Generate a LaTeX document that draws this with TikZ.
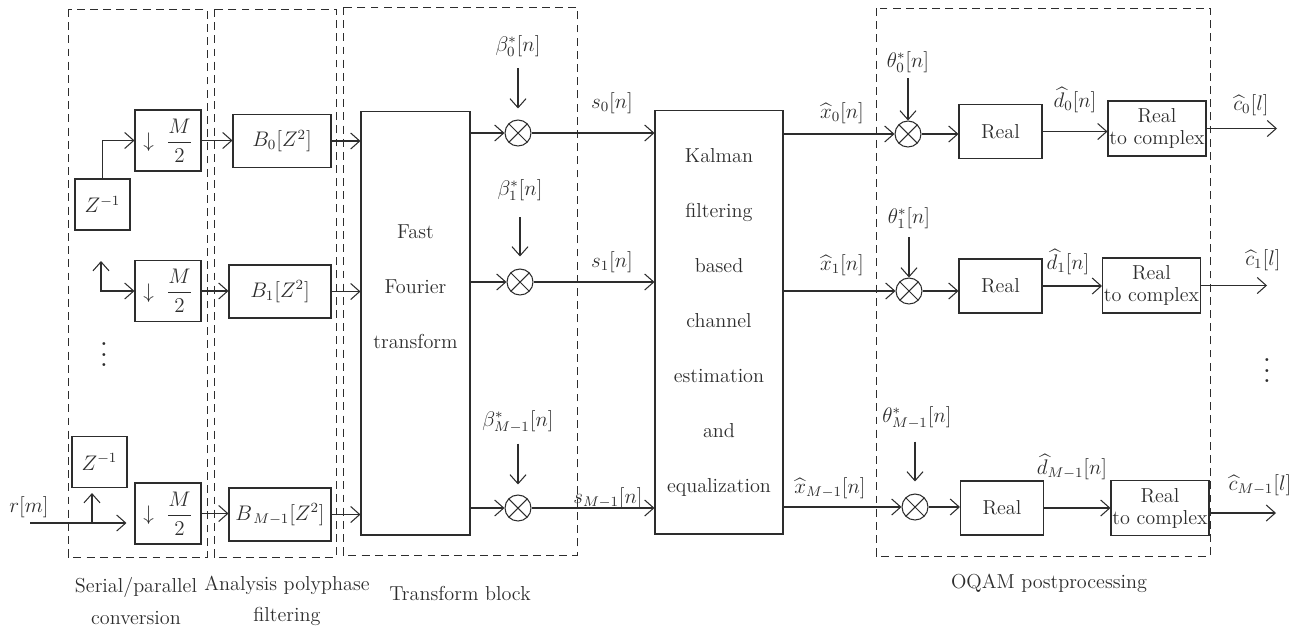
\documentclass[tikz,border=0pt]{standalone}
\usepackage{amsmath}
\usepackage{amssymb}
\usepackage{tikz}
\usetikzlibrary{arrows.meta,positioning,calc}
\definecolor{ink}{RGB}{45,45,45}

\begin{document}
\begin{tikzpicture}[
      x=0.02cm, y=-0.02cm, color=ink, line width=0.6pt,
      >={Straight Barb[length=1.8mm,width=3.2mm]},
      font=\fontsize{11.5}{14}\selectfont,
      dsbox/.style={draw, minimum width=13.2mm, minimum height=12.2mm, inner sep=1pt},
      dly/.style={draw, minimum width=11mm, minimum height=10.2mm, inner sep=1pt},
      flt/.style={draw, minimum width=20.4mm, minimum height=10.6mm, inner sep=1pt},
      bigbox/.style={draw, align=center, minimum height=84.8mm, font=\fontsize{11.5}{31.3}\selectfont},
      realbox/.style={draw, minimum width=16.6mm, minimum height=10.8mm},
      cvbox/.style={draw, align=center, minimum width=19.6mm, minimum height=11mm,
                    inner sep=0.5pt, font=\fontsize{11.5}{12.5}\selectfont},
      mix/.style={draw, circle, minimum size=5.2mm, inner sep=0pt,
                  path picture={\draw (path picture bounding box.north west) -- (path picture bounding box.south east)
                                      (path picture bounding box.south west) -- (path picture bounding box.north east);}},
      sig/.style={inner sep=1pt, font=\fontsize{12}{14}\selectfont},
      grp/.style={draw, dash pattern=on 4.5pt off 3pt, line width=0.5pt},
      grplbl/.style={align=center, font=\fontsize{11.5}{18}\selectfont}
    ]
    \useasboundingbox (0,0) rectangle (1311,630);

    % processing groups
    \draw[grp] (68,9) rectangle (207,557);
    \draw[grp] (214,9) rectangle (336,557);
    \draw[grp] (343,7) rectangle (577,555);
    \draw[grp] (876,8) rectangle (1210,556);

    \node[grplbl] (capsp) at (136,601) {Serial/parallel\\conversion};
    \node[grplbl] (capap) at (287,601) {Analysis polyphase\\filtering};
    \node[grplbl] (captb) at (460,593) {Transform block};
    \node[grplbl] (capoq) at (1049,583) {OQAM postprocessing};

    % serial/parallel conversion
    \node[dsbox] (ds0) at (168,140.5) {$\downarrow\ \dfrac{M}{2}$};
    \node[dsbox] (ds1) at (168,291)   {$\downarrow\ \dfrac{M}{2}$};
    \node[dsbox] (ds2) at (168,513.5) {$\downarrow\ \dfrac{M}{2}$};
    \node[dly]   (z0)  at (102.5,204.5) {$Z^{-1}$};
    \node[dly]   (z2)  at (99.5,462)    {$Z^{-1}$};
    \node[scale=1.5] (dotsl) at (104,347) {$\vdots$};

    \coordinate (rin) at (30,523);
    \coordinate (jn)  at (92,523);
    \coordinate (up1) at (101,261);
    \node[sig] (rlab) at (29,507) {$r[m]$};

    \draw[->, shorten >=1.6mm] (rin) -- (rin -| ds2.west);
    \draw[->, shorten >=1mm] (jn) -- (jn |- z2.south);
    \draw[->] (z0.north) |- (ds0.west);
    \draw[<->] (up1) |- (ds1.west);

    % polyphase filters
    \node[flt, minimum width=19.6mm] (bf0) at (282,141) {$B_0[Z^2]$};
    \node[flt] (bf1) at (280,291.5) {$B_1[Z^2]$};
    \node[flt] (bf2) at (280,514.5) {$B_{\,M-1}[Z^2]$};

    \draw[->] (ds0.east) -- (ds0.east -| bf0.west);
    \draw[->] (ds1.east) -- (ds1.east -| bf1.west);
    \draw[->] (ds2.east) -- (ds2.east -| bf2.west);

    % transform block
    \node[bigbox, minimum width=21.8mm] (fft) at (415.5,323) {};
    \node[align=center, font=\fontsize{11.5}{31.3}\selectfont] (ffttxt) at (415.5,287) {Fast\\Fourier\\transform};

    \draw[->] (bf0.east) -- (bf0.east -| fft.west);
    \draw[->] (bf1.east) -- (bf1.east -| fft.west);
    \draw[->] (bf2.east) -- (bf2.east -| fft.west);

    \node[mix] (m0) at (518,133) {};
    \node[mix] (m1) at (520,282) {};
    \node[mix] (m2) at (518,508) {};
    \node[sig] (bl0) at (518,46)  {$\beta_0^*[n]$};
    \node[sig] (bl1) at (520,190) {$\beta_1^*[n]$};
    \node[sig] (bl2) at (518,422) {$\beta_{M-1}^*[n]$};

    \draw[->, shorten <=1.9mm, shorten >=2.2mm] (bl0) -- (m0);
    \draw[->, shorten <=2.9mm, shorten >=2.4mm] (bl1) -- (m1);
    \draw[->, shorten <=1.6mm, shorten >=2mm] (bl2) -- (m2);

    \draw[->] (m0 -| fft.east) -- (m0);
    \draw[->] (m1 -| fft.east) -- (m1);
    \draw[->] (m2 -| fft.east) -- (m2);

    % channel estimation and equalization
    \node[bigbox, minimum width=25.6mm] (kal) at (719,322)
      {Kalman\\filtering\\based\\channel\\estimation\\and\\equalization};

    \draw[->] (m0) -- (m0 -| kal.west);
    \draw[->] (m1) -- (m1 -| kal.west);
    \draw[->] (m2) -- (m2 -| kal.west);
    \node[sig] (sl0) at (612,103) {$s_0[n]$};
    \node[sig] (sl1) at (612,262) {$s_1[n]$};
    \node[sig] (sl2) at (608,498) {$s_{M-1}[n]$};

    % OQAM postprocessing
    \node[mix] (t0) at (908,134) {};
    \node[mix] (t1) at (909,291) {};
    \node[mix] (t2) at (915,507) {};
    \node[sig] (tl0) at (908,62)  {$\theta_0^*[n]$};
    \node[sig] (tl1) at (909,218) {$\theta_1^*[n]$};
    \node[sig] (tl2) at (917,418) {$\theta_{M-1}^*[n]$};

    \draw[->, shorten <=0.7mm] (tl0) -- (t0);
    \draw[->, shorten <=1.3mm] (tl1) -- (t1);
    \draw[->, shorten <=2mm, shorten >=2.4mm] (tl2.south -| t2) -- (t2);

    \draw[->] (t0 -| kal.east) -- (t0);
    \draw[->] (t1 -| kal.east) -- (t1);
    \draw[->] (t2 -| kal.east) -- (t2);
    \node[sig] (xl0) at (842,113) {$\widehat{x}_0[n]$};
    \node[sig] (xl1) at (842,265) {$\widehat{x}_1[n]$};
    \node[sig] (xl2) at (830,488) {$\widehat{x}_{M-1}[n]$};

    \node[realbox] (re0) at (1000.5,131.5) {Real};
    \node[realbox] (re1) at (1000.5,286)   {Real};
    \node[realbox] (re2) at (1002,508)     {Real};

    \draw[->] (t0) -- (t0 -| re0.west);
    \draw[->] (t1) -- (t1 -| re1.west);
    \draw[->] (t2) -- (t2 -| re2.west);

    \node[cvbox] (rc0) at (1157,128.5) {Real\\to complex};
    \node[cvbox] (rc1) at (1151.5,285.5) {Real\\to complex};
    \node[cvbox] (rc2) at (1160,508) {Real\\to complex};

    \draw[->] (re0.east) -- (re0.east -| rc0.west);
    \draw[->] (re1.east) -- (re1.east -| rc1.west);
    \draw[->] (re2.east) -- (re2.east -| rc2.west);
    \node[sig] (dl0) at (1075,100) {$\widehat{d}_0[n]$};
    \node[sig] (dl1) at (1068,262) {$\widehat{d}_1[n]$};
    \node[sig] (dl2) at (1072,467) {$\widehat{d}_{M-1}[n]$};

    % outputs
    \coordinate (out0) at (1277,128.5);
    \coordinate (out1) at (1267,285.5);
    \coordinate (out2) at (1276,513);
    \draw[->] (rc0.east |- out0) -- (out0);
    \draw[->] (rc1.east |- out1) -- (out1);
    \draw[->] (rc2.east |- out2) -- (out2);
    \node[sig] (cl0) at (1251,105) {$\widehat{c}_0[l]$};
    \node[sig] (cl1) at (1263,260) {$\widehat{c}_1[l]$};
    \node[sig] (cl2) at (1260,485) {$\widehat{c}_{M-1}[l]$};
    \node[scale=1.5] (dotsr) at (1267,363) {$\vdots$};
  \end{tikzpicture}
\end{document}
